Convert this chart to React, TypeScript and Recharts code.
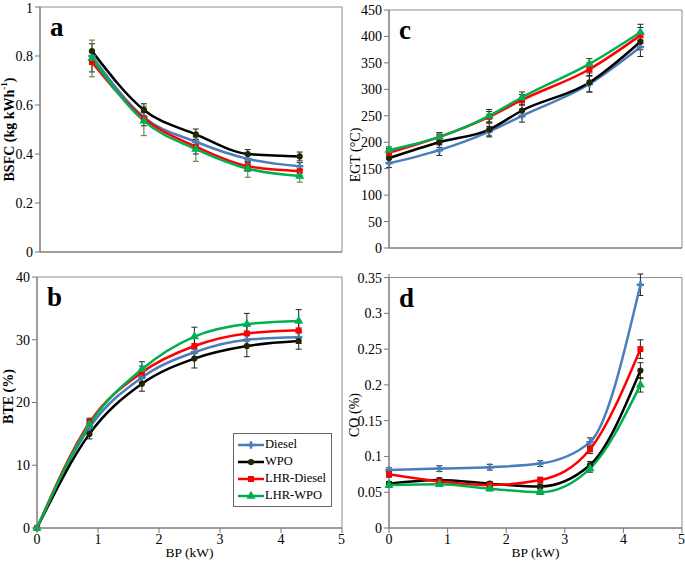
import React from "react"
import {
  LineChart,
  Line,
  XAxis,
  YAxis,
  ErrorBar,
  ReferenceArea,
  Symbols,
} from "recharts"

// ---- data ----
const bpA = [0.86, 1.72, 2.58, 3.44, 4.3]
const bsfcDiesel = [0.8, 0.55, 0.45, 0.38, 0.35]
const bsfcWpo = [0.82, 0.58, 0.48, 0.4, 0.39]
const bsfcLhrDiesel = [0.775, 0.545, 0.43, 0.35, 0.33]
const bsfcLhrWpo = [0.79, 0.535, 0.42, 0.34, 0.31]
const bsfcDieselErr = [0.02, 0.02, 0.02, 0.015, 0.015]
const bsfcWpoErr = [0.03, 0.025, 0.022, 0.018, 0.018]
const bsfcLhrDieselErr = [0.04, 0.03, 0.03, 0.02, 0.02]
const bsfcLhrWpoErr = [0.075, 0.06, 0.05, 0.035, 0.025]

const bpB = [0, 0.86, 1.72, 2.58, 3.44, 4.29]
const bteDiesel = [0, 16, 24, 28, 30, 30.4]
const bteWpo = [0, 15, 23, 27, 29, 29.8]
const bteLhrDiesel = [0, 16.8, 24.8, 29, 31, 31.5]
const bteLhrWpo = [0, 16.5, 25.3, 30.5, 32.5, 33]
const bteDieselErr = [0, 0.6, 0.8, 1, 1, 1]
const bteWpoErr = [0, 0.8, 1.2, 1.5, 1.7, 1.3]
const bteLhrDieselErr = [0, 0.7, 1, 1.2, 1.2, 1.2]
const bteLhrWpoErr = [0, 0.8, 1.2, 1.5, 1.7, 1.8]

const bpC = [0, 0.86, 1.71, 2.27, 3.42, 4.29]
const egtDiesel = [160, 185, 220, 250, 310, 380]
const egtWpo = [170, 200, 224, 260, 313, 390]
const egtLhrDiesel = [180, 210, 248, 280, 338, 402]
const egtLhrWpo = [185, 210, 250, 285, 348, 408]
const egtDieselErr = [8, 10, 10, 12, 15, 18]
const egtWpoErr = [8, 10, 12, 12, 18, 15]
const egtLhrDieselErr = [8, 8, 10, 10, 12, 15]
const egtLhrWpoErr = [6, 8, 12, 10, 10, 15]

const bpD = [0, 0.86, 1.72, 2.58, 3.43, 4.29]
const coDiesel = [0.081, 0.083, 0.085, 0.09, 0.12, 0.34]
const coWpo = [0.062, 0.067, 0.062, 0.058, 0.088, 0.22]
const coLhrDiesel = [0.075, 0.065, 0.06, 0.067, 0.11, 0.25]
const coLhrWpo = [0.06, 0.061, 0.055, 0.05, 0.083, 0.2]
const coDieselErr = [0.003, 0.004, 0.004, 0.004, 0.006, 0.015]
const coWpoErr = [0.003, 0.003, 0.003, 0.003, 0.005, 0.011]
const coLhrDieselErr = [0.004, 0.003, 0.003, 0.004, 0.006, 0.013]
const coLhrWpoErr = [0.003, 0.003, 0.003, 0.003, 0.005, 0.01]

const xTicks = [0, 1, 2, 3, 4, 5]
const bsfcTicks = [0, 0.2, 0.4, 0.6, 0.8, 1]
const bteTicks = [0, 10, 20, 30, 40]
const egtTicks = [0, 50, 100, 150, 200, 250, 300, 350, 400, 450]
const coTicks = [0, 0.05, 0.1, 0.15, 0.2, 0.25, 0.3, 0.35]

const serif = "'Liberation Serif', 'Times New Roman', Tinos, 'DejaVu Serif', 'Noto Serif', serif"

const series = [
  { key: "diesel", name: "Diesel", color: "#4A7EBB", shape: "cross", fill: "#4A7EBB", size: 30 },
  { key: "wpo", name: "WPO", color: "#000000", shape: "circle", fill: "#1f2600", size: 30 },
  { key: "lhrDiesel", name: "LHR-Diesel", color: "#FF0000", shape: "square", fill: "#FF0000", size: 36 },
  { key: "lhrWpo", name: "LHR-WPO", color: "#00B050", shape: "triangle", fill: "#00B050", size: 36 },
]

function buildRows(bp: number[], vals: number[][], errs: number[][]) {
  return bp.map((x, i) => {
    const row: any = { bp: x }
    series.forEach((s, j) => {
      row[s.key] = vals[j][i]
      row[s.key + "Err"] = errs[j][i]
    })
    return row
  })
}

const rowsA = buildRows(bpA, [bsfcDiesel, bsfcWpo, bsfcLhrDiesel, bsfcLhrWpo], [bsfcDieselErr, bsfcWpoErr, bsfcLhrDieselErr, bsfcLhrWpoErr])
const rowsB = buildRows(bpB, [bteDiesel, bteWpo, bteLhrDiesel, bteLhrWpo], [bteDieselErr, bteWpoErr, bteLhrDieselErr, bteLhrWpoErr])
const rowsC = buildRows(bpC, [egtDiesel, egtWpo, egtLhrDiesel, egtLhrWpo], [egtDieselErr, egtWpoErr, egtLhrDieselErr, egtLhrWpoErr])
const rowsD = buildRows(bpD, [coDiesel, coWpo, coLhrDiesel, coLhrWpo], [coDieselErr, coWpoErr, coLhrDieselErr, coLhrWpoErr])

const makeDot = (shape: any, fill: string, size: number) => (props: any) => {
  const { cx, cy, index } = props
  if (cx == null || cy == null) return <g key={index} />
  return <Symbols key={index} cx={cx} cy={cy} type={shape} size={size} fill={fill} />
}

// legend box sits inside panel b, drawn over the plot
const LegendBox = () => (
  <div
    style={{
      position: "absolute",
      left: 233,
      top: 173,
      border: "1px solid #666",
      background: "#fff",
      padding: "2px 5px 2px 4px",
      fontFamily: serif,
      fontSize: 12.5,
      lineHeight: "17px",
    }}
  >
    {series.map((s) => (
      <div key={s.key} style={{ display: "flex", alignItems: "center", height: 17 }}>
        <svg width={26} height={10} style={{ marginRight: 1 }}>
          <line x1={0} y1={5} x2={26} y2={5} stroke={s.color} strokeWidth={2.5} />
          <Symbols cx={13} cy={5} type={s.shape as any} size={s.size} fill={s.fill} />
        </svg>
        <span>{s.name}</span>
      </div>
    ))}
  </div>
)

interface PanelProps {
  rows: any[]
  left: number
  top: number
  height: number
  marginTop: number
  yWidth: number
  xHeight: number
  yDomain: [number, number]
  yTicks: number[]
  letter: string
  yLabel: React.ReactNode
  yLabelBold?: boolean
  yLabelDx: number
  yLabelDy: number
  showXLabels?: boolean
  showLegend?: boolean
  errColor?: (key: string) => string
}

const Panel: React.FC<PanelProps> = ({
  rows,
  left,
  top,
  height,
  marginTop,
  yWidth,
  xHeight,
  yDomain,
  yTicks,
  letter,
  yLabel,
  yLabelBold = false,
  yLabelDx,
  yLabelDy,
  showXLabels = false,
  showLegend = false,
  errColor = () => "#222",
}) => {
  const renderYLabel = (props: any) => {
    const vb = props.viewBox
    const cx = vb.x + yLabelDx
    const cy = vb.y + vb.height / 2 + yLabelDy
    return (
      <text
        x={cx}
        y={cy}
        transform={`rotate(-90 ${cx} ${cy})`}
        textAnchor="middle"
        dominantBaseline="central"
        style={{ fontFamily: serif }}
        fontSize={14}
        fontWeight={yLabelBold ? "bold" : "normal"}
        fill="#000"
      >
        {yLabel}
      </text>
    )
  }

  const tickStyle = { fill: "#000", fontSize: 14, style: { fontFamily: serif } }

  return (
    <div style={{ position: "absolute", left, top, width: 345, height, fontFamily: serif }}>
      <LineChart
        width={345}
        height={height}
        data={rows}
        margin={{ top: marginTop, right: 3, bottom: 0, left: 0 }}
        style={{ fontFamily: serif }}
      >
        <XAxis
          dataKey="bp"
          type="number"
          domain={[0, 5]}
          ticks={xTicks}
          height={xHeight}
          stroke="#777"
          tickSize={5}
          tickMargin={1}
          tick={showXLabels ? tickStyle : false}
          label={
            showXLabels
              ? { value: "BP (kW)", position: "insideBottom", offset: 14, fill: "#000", fontSize: 13.5, style: { fontFamily: serif } }
              : undefined
          }
        />
        <YAxis
          type="number"
          domain={yDomain}
          ticks={yTicks}
          width={yWidth}
          stroke="#777"
          tickSize={5}
          tickMargin={2}
          tick={tickStyle}
          label={renderYLabel}
        />
        <ReferenceArea
          x1={0}
          x2={5}
          y1={yDomain[0]}
          y2={yDomain[1]}
          fill="none"
          fillOpacity={0}
          stroke="#8c8c8c"
          strokeWidth={1}
          label={{
            value: letter,
            position: "insideTopLeft",
            offset: 10,
            fill: "#000",
            fontSize: 27,
            fontWeight: "bold",
            style: { fontFamily: serif },
          }}
        />
        {series.map((s) => (
          <Line
            key={s.key}
            dataKey={s.key}
            name={s.name}
            type="monotone"
            stroke={s.color}
            strokeWidth={2.5}
            dot={makeDot(s.shape, s.fill, s.size)}
            isAnimationActive={false}
          >
            <ErrorBar
              dataKey={s.key + "Err"}
              width={3}
              strokeWidth={1}
              stroke={errColor(s.key)}
              direction="y"
              isAnimationActive={false}
            />
          </Line>
        ))}
      </LineChart>
      {showLegend && <LegendBox />}
    </div>
  )
}

export default function App() {
  return (
    <div style={{ position: "absolute", left: 0, top: 0, width: 685, height: 571, background: "#fff" }}>
      <Panel
        rows={rowsA}
        left={0}
        top={0}
        height={260}
        marginTop={7}
        yWidth={40}
        xHeight={8}
        yDomain={[0, 1]}
        yTicks={bsfcTicks}
        letter="a"
        yLabel={
          <>
            BSFC (kg kWh
            <tspan baselineShift="super" fontSize={9}>
              -1
            </tspan>
            )
          </>
        }
        yLabelBold
        yLabelDx={9}
        yLabelDy={0}
        errColor={(k) => (k === "lhrWpo" ? "#4f7a28" : "#222")}
      />
      <Panel
        rows={rowsB}
        left={0}
        top={260}
        height={311}
        marginTop={17}
        yWidth={37}
        xHeight={43}
        yDomain={[0, 40]}
        yTicks={bteTicks}
        letter="b"
        yLabel="BTE (%)"
        yLabelBold
        yLabelDx={8}
        yLabelDy={-6}
        showXLabels
        showLegend
      />
      <Panel
        rows={rowsC}
        left={340}
        top={0}
        height={260}
        marginTop={10}
        yWidth={49}
        xHeight={12}
        yDomain={[0, 450]}
        yTicks={egtTicks}
        letter="c"
        yLabel="EGT (°C)"
        yLabelDx={15}
        yLabelDy={26}
      />
      <Panel
        rows={rowsD}
        left={340}
        top={260}
        height={311}
        marginTop={14}
        yWidth={49}
        xHeight={43}
        yDomain={[0, 0.35]}
        yTicks={coTicks}
        letter="d"
        yLabel="CO (%)"
        yLabelDx={14}
        yLabelDy={14}
        showXLabels
      />
    </div>
  )
}
